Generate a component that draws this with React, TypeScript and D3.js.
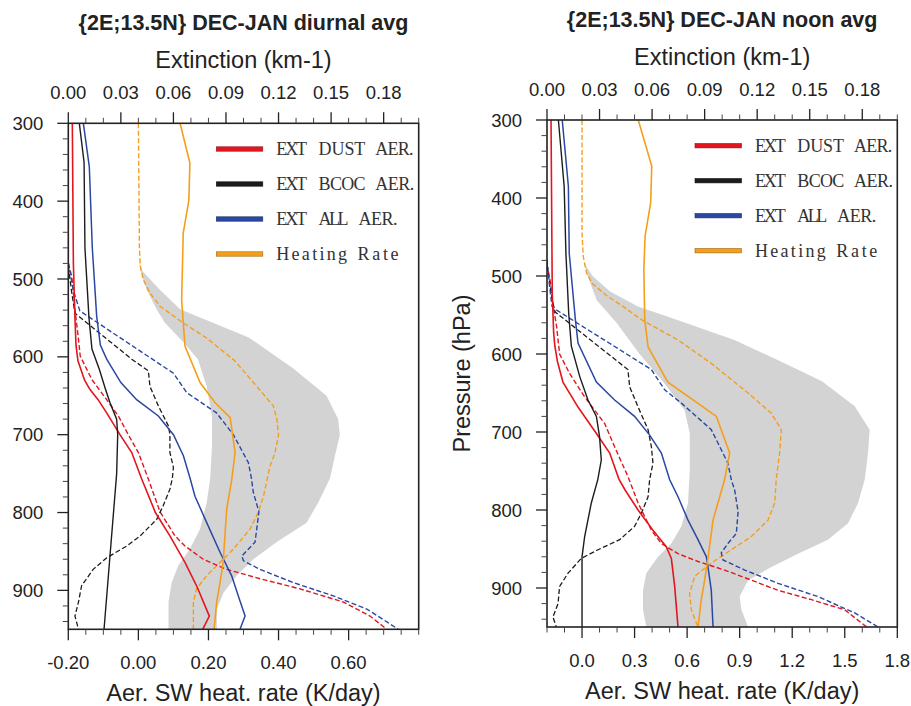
import React from "react";
import * as d3 from "d3";

type Pt = [number, number]; // [pressure hPa, value]

// ---------- axis ticks ----------
const PRESSURE_TICKS = [300, 400, 500, 600, 700, 800, 900];
const EXT_TICKS = [0, 0.03, 0.06, 0.09, 0.12, 0.15, 0.18];
const DIURNAL_HEAT_TICKS = [-0.2, 0, 0.2, 0.4, 0.6];
const NOON_HEAT_TICKS = [0, 0.3, 0.6, 0.9, 1.2, 1.5, 1.8];

const LEGEND_LABELS = ["EXT DUST AER.", "EXT BCOC AER.", "EXT ALL AER.", "Heating Rate"];
// word layout for the legend labels: [offset, width] per word
const LEGEND_WORD_LAYOUT: [number, number][][] = [
  [[0, 30.7], [42.3, 46.7], [99, 38.3]],
  [[0, 30.7], [42.3, 47], [99, 39]],
  [[0, 30.7], [42.3, 30], [82.3, 39]],
  [[0, 70.7], [81.3, 41]],
];

// ---------- diurnal (left) ----------
const diurnalDustExt: Pt[] = [[300,0.0023],[480,0.0029],[550,0.0038],[585,0.0044],[605,0.0055],[630,0.0093],[642,0.0124],[655,0.0170],[672,0.0219],[700,0.0295],[723,0.0362],[757,0.0419],[800,0.0497],[830,0.0580],[864,0.0666],[896,0.0736],[933,0.0805],[950,0.0767]];
const diurnalBcocExt: Pt[] = [[300,0.0063],[350,0.0090],[460,0.0095],[550,0.0118],[590,0.0135],[616,0.0177],[640,0.0210],[659,0.0238],[680,0.0276],[700,0.0282],[750,0.0276],[950,0.0204]];
const diurnalAllExt: Pt[] = [[300,0.0086],[356,0.0120],[460,0.0137],[548,0.0162],[585,0.0183],[603,0.0219],[633,0.0300],[655,0.0390],[676,0.0514],[700,0.0600],[727,0.0657],[756,0.0695],[779,0.0723],[813,0.0790],[851,0.0866],[881,0.0932],[907,0.0970],[933,0.1009],[950,0.0980]];
const diurnalDustHeat: Pt[] = [[480,-0.2],[497,-0.19],[539,-0.181],[573,-0.172],[599,-0.166],[629,-0.133],[655,-0.0905],[676,-0.0572],[700,-0.0287],[723,0.0],[757,0.0285],[799,0.0617],[830,0.1045],[843,0.133],[860,0.185],[873,0.252],[885,0.347],[898,0.461],[915,0.585],[933,0.661],[950,0.709]];
const diurnalBcocHeat: Pt[] = [[484,-0.2],[518,-0.19],[544,-0.181],[603,-0.019],[618,0.0285],[638,0.033],[663,0.057],[689,0.086],[700,0.09],[723,0.09],[742,0.1],[756,0.097],[770,0.09],[791,0.071],[809,0.052],[830,0.005],[843,-0.033],[858,-0.09],[873,-0.129],[894,-0.162],[915,-0.171],[933,-0.181],[950,-0.171]];
const diurnalAllHeat: Pt[] = [[479,-0.2],[514,-0.186],[541,-0.167],[621,0.1],[646,0.138],[672,0.223],[700,0.271],[736,0.314],[757,0.323],[774,0.328],[799,0.344],[838,0.333],[856,0.295],[862,0.3],[873,0.347],[890,0.442],[907,0.556],[924,0.652],[950,0.742]];
const diurnalHeatRate: Pt[] = [[300,0.119],[351,0.147],[399,0.144],[441,0.128],[527,0.1235],[586,0.133],[633,0.176],[659,0.219],[678,0.262],[723,0.276],[756,0.267],[796,0.252],[864,0.242],[890,0.233],[915,0.2235],[950,0.216]];
const diurnalHeatMean: Pt[] = [[300,0.0],[462,0.003],[484,0.006],[501,0.014],[518,0.033],[535,0.062],[554,0.12],[576,0.195],[605,0.275],[638,0.338],[663,0.385],[680,0.395],[700,0.4],[723,0.39],[740,0.376],[779,0.357],[799,0.343],[821,0.319],[847,0.271],[864,0.233],[881,0.195],[898,0.166],[915,0.157],[950,0.157]];
const diurnalBandLow: Pt[] = [[471,0.0],[488,0.005],[514,0.024],[539,0.052],[556,0.075],[582,0.13],[603,0.17],[638,0.195],[676,0.21],[715,0.21],[756,0.205],[787,0.195],[821,0.176],[847,0.147],[868,0.114],[890,0.095],[915,0.086],[950,0.086]];
const diurnalBandHigh: Pt[] = [[471,0.0],[488,0.008],[514,0.062],[539,0.119],[552,0.19],[575,0.315],[615,0.442],[650,0.537],[680,0.57],[700,0.575],[727,0.561],[756,0.547],[787,0.5135],[813,0.48],[838,0.395],[860,0.328],[881,0.281],[903,0.243],[924,0.224],[950,0.224]];

// ---------- noon (right) ----------
const noonDustExt: Pt[] = [[300,0.0023],[522,0.003],[573,0.0038],[590,0.0045],[610,0.006],[636,0.0091],[668,0.0177],[702,0.0282],[727,0.0358],[760,0.041],[774,0.0445],[800,0.052],[826,0.0605],[847,0.0681],[862,0.071],[898,0.0729],[950,0.0748]];
const noonBcocExt: Pt[] = [[300,0.0065],[385,0.0098],[471,0.0108],[548,0.0124],[590,0.0139],[629,0.0187],[659,0.0234],[680,0.0282],[706,0.030],[736,0.031],[761,0.029],[791,0.0253],[834,0.0215],[860,0.020],[950,0.020]];
const noonAllExt: Pt[] = [[300,0.0087],[385,0.0122],[471,0.0127],[556,0.0162],[586,0.0177],[636,0.0282],[659,0.0386],[680,0.0500],[704,0.0586],[727,0.0653],[761,0.0700],[783,0.0748],[813,0.0805],[838,0.0862],[860,0.0910],[873,0.0919],[903,0.0938],[950,0.0948]];
const noonDustHeat: Pt[] = [[485,-0.2],[505,-0.183],[539,-0.164],[565,-0.145],[600,-0.128],[625,-0.071],[655,0.015],[689,0.129],[719,0.186],[757,0.262],[791,0.32],[826,0.396],[843,0.453],[856,0.548],[866,0.662],[877,0.814],[890,0.967],[903,1.119],[915,1.31],[928,1.5],[950,1.625]];
const noonBcocHeat: Pt[] = [[487,-0.2],[531,-0.17],[546,-0.154],[620,0.262],[642,0.272],[668,0.32],[697,0.377],[719,0.396],[740,0.405],[761,0.386],[783,0.377],[804,0.339],[821,0.3],[838,0.215],[851,0.091],[862,-0.004],[881,-0.08],[898,-0.128],[920,-0.137],[937,-0.166],[950,-0.147]];
const noonAllHeat: Pt[] = [[479,-0.2],[514,-0.185],[539,-0.171],[544,-0.143],[620,0.396],[646,0.472],[663,0.567],[697,0.738],[740,0.833],[761,0.852],[774,0.871],[802,0.891],[830,0.881],[843,0.833],[855,0.795],[864,0.805],[877,0.929],[894,1.119],[911,1.347],[932,1.557],[950,1.69]];
const noonHeatRate: Pt[] = [[300,0.321],[359,0.398],[406,0.392],[449,0.36],[492,0.353],[556,0.358],[591,0.377],[636,0.49],[663,0.66],[680,0.767],[727,0.843],[761,0.814],[791,0.776],[813,0.748],[862,0.719],[890,0.7],[915,0.681],[950,0.662]];
const noonHeatMean: Pt[] = [[300,0.0],[445,0.0],[475,0.007],[490,0.02],[497,0.027],[510,0.06],[525,0.14],[540,0.24],[556,0.339],[582,0.548],[612,0.738],[650,0.948],[676,1.081],[697,1.138],[727,1.128],[760,1.109],[791,1.1],[813,1.062],[834,0.967],[851,0.852],[868,0.738],[885,0.643],[907,0.614],[928,0.624],[950,0.662]];
const noonBandLow: Pt[] = [[484,0.015],[497,0.027],[531,0.084],[560,0.197],[599,0.325],[638,0.472],[672,0.586],[702,0.615],[749,0.615],[791,0.605],[821,0.567],[843,0.51],[860,0.434],[881,0.367],[903,0.348],[928,0.348],[950,0.367]];
const noonBandHigh: Pt[] = [[484,0.015],[500,0.06],[520,0.16],[539,0.32],[556,0.54],[582,0.87],[608,1.12],[635,1.37],[667,1.557],[697,1.642],[727,1.633],[761,1.614],[791,1.576],[817,1.519],[838,1.404],[856,1.233],[873,1.081],[890,0.948],[911,0.9],[928,0.91],[950,0.948]];

const COLORS = { dust: "#e3161e", bcoc: "#1c1c1c", all: "#2a47a3", heat: "#f59e1b" };
const LEGEND_COLORS = [COLORS.dust, COLORS.bcoc, COLORS.all, COLORS.heat];
const FONT = "'Liberation Sans', Arial, Helvetica, sans-serif";
const SERIF = "'Liberation Serif', 'Times New Roman', serif";

interface PanelProps {
  id: string;
  x0: number; x1: number; y0: number; y1: number;
  title: string;
  heatDomain: [number, number];
  heatTicks: number[];
  heatMinorStep: number;
  heatFmt: string;
  showYLabel: boolean;
  dustExt: Pt[]; bcocExt: Pt[]; allExt: Pt[];
  dustHeat: Pt[]; bcocHeat: Pt[]; allHeat: Pt[];
  heatRate: Pt[]; heatMean: Pt[];
  bandLow: Pt[]; bandHigh: Pt[];
}

function minorValues(a: number, b: number, step: number, majors: number[]) {
  const n = Math.round((b - a) / step);
  const out: number[] = [];
  for (let i = 0; i <= n; i++) {
    const v = a + i * step;
    if (!majors.some((m) => Math.abs(m - v) < step * 0.01)) out.push(v);
  }
  return out;
}

const hyphen = (s: string) => s.replace("\u2212", "-");

function Panel(p: PanelProps) {
  const y = d3.scaleLinear().domain([300, 950]).range([p.y0, p.y1]);
  const xe = d3.scaleLinear().domain([0, 0.2]).range([p.x0, p.x1]);
  const xh = d3.scaleLinear().domain(p.heatDomain).range([p.x0, p.x1]);
  const lineE = d3.line<Pt>().x((d) => xe(d[1])).y((d) => y(d[0]));
  const lineH = d3.line<Pt>().x((d) => xh(d[1])).y((d) => y(d[0]));
  const band = lineH([...p.bandLow, ...p.bandHigh.slice().reverse()]) + "Z";
  const cx = (p.x0 + p.x1) / 2;
  const cy = (p.y0 + p.y1) / 2;
  const MAJ = 11, MIN = 5.5;
  const fmtH = d3.format(p.heatFmt);
  const pMinor = minorValues(300, 940, 20, PRESSURE_TICKS);
  const eMinor = minorValues(0, 0.2, 0.01, EXT_TICKS);
  const hMinor = minorValues(p.heatDomain[0], p.heatDomain[1], p.heatMinorStep, p.heatTicks);
  const clip = `clip-${p.id}`;
  const dash = "5,2.5";

  return (
    <g>
      <defs>
        <clipPath id={clip}>
          <rect x={p.x0} y={p.y0} width={p.x1 - p.x0} height={p.y1 - p.y0} />
        </clipPath>
      </defs>
      <g clipPath={`url(#${clip})`}>
        <path d={band} fill="#d3d3d3" stroke="none" />
        <path d={lineH(p.heatMean) || ""} fill="none" stroke={COLORS.heat} strokeWidth={1.4} strokeDasharray={dash} />
        <path d={lineH(p.dustHeat) || ""} fill="none" stroke={COLORS.dust} strokeWidth={1.4} strokeDasharray={dash} />
        <path d={lineH(p.bcocHeat) || ""} fill="none" stroke={COLORS.bcoc} strokeWidth={1.3} strokeDasharray={dash} />
        <path d={lineH(p.allHeat) || ""} fill="none" stroke={COLORS.all} strokeWidth={1.4} strokeDasharray={dash} />
        <path d={lineE(p.dustExt) || ""} fill="none" stroke={COLORS.dust} strokeWidth={1.6} />
        <path d={lineE(p.bcocExt) || ""} fill="none" stroke={COLORS.bcoc} strokeWidth={1.4} />
        <path d={lineE(p.allExt) || ""} fill="none" stroke={COLORS.all} strokeWidth={1.5} />
        <path d={lineH(p.heatRate) || ""} fill="none" stroke={COLORS.heat} strokeWidth={1.6} />
      </g>

      {/* frame */}
      <rect x={p.x0} y={p.y0} width={p.x1 - p.x0} height={p.y1 - p.y0} fill="none" stroke="#222" strokeWidth={1.6} />

      {/* left axis ticks */}
      {PRESSURE_TICKS.map((t) => (
        <g key={`py${t}`}>
          <line x1={p.x0 - MAJ} x2={p.x0} y1={y(t)} y2={y(t)} stroke="#222" strokeWidth={1.3} />
          <text x={p.x0 - 25} y={y(t)} dy="0.36em" textAnchor="end" fontSize={18.5} fontFamily={FONT} fill="#222">{t}</text>
        </g>
      ))}
      {pMinor.map((t) => (
        <line key={`pm${t}`} x1={p.x0 - MIN} x2={p.x0} y1={y(t)} y2={y(t)} stroke="#444" strokeWidth={1} />
      ))}

      {/* top axis */}
      {EXT_TICKS.map((t) => (
        <g key={`et${t}`}>
          <line x1={xe(t)} x2={xe(t)} y1={p.y0 - MAJ} y2={p.y0} stroke="#222" strokeWidth={1.3} />
          <text x={xe(t)} y={p.y0 - 24.5} textAnchor="middle" fontSize={18.5} fontFamily={FONT} fill="#222">{d3.format(".2f")(t)}</text>
        </g>
      ))}
      {eMinor.map((t) => (
        <line key={`em${t}`} x1={xe(t)} x2={xe(t)} y1={p.y0 - MIN} y2={p.y0} stroke="#444" strokeWidth={1} />
      ))}

      {/* bottom axis */}
      {p.heatTicks.map((t) => (
        <g key={`ht${t}`}>
          <line x1={xh(t)} x2={xh(t)} y1={p.y1} y2={p.y1 + MAJ} stroke="#222" strokeWidth={1.3} />
          <text x={xh(t)} y={p.y1 + 39.5} textAnchor="middle" fontSize={18.5} fontFamily={FONT} fill="#222">{hyphen(fmtH(t))}</text>
        </g>
      ))}
      {hMinor.map((t) => (
        <line key={`hm${t}`} x1={xh(t)} x2={xh(t)} y1={p.y1} y2={p.y1 + MIN} stroke="#444" strokeWidth={1} />
      ))}

      {/* titles */}
      <text x={cx} y={p.y0 - 93} textAnchor="middle" fontSize={21.5} fontWeight="bold" fontFamily={FONT} fill="#222">{p.title}</text>
      <text x={cx} y={p.y0 - 55.5} textAnchor="middle" fontSize={23.5} fontFamily={FONT} fill="#222">Extinction (km-1)</text>
      <text x={cx} y={p.y1 + 71.5} textAnchor="middle" fontSize={23.5} fontFamily={FONT} fill="#222">Aer. SW heat. rate (K/day)</text>
      {p.showYLabel && (
        <text transform={`translate(${p.x0 - 77},${cy}) rotate(-90)`} textAnchor="middle" fontSize={23.5} fontFamily={FONT} fill="#222">Pressure (hPa)</text>
      )}

      {/* legend */}
      {LEGEND_LABELS.map((lab, i) => {
        const ly = p.y0 + 25.7 + i * 35;
        const c = LEGEND_COLORS[i];
        const words = lab.split(" ");
        return (
          <g key={lab}>
            <rect x={p.x0 + 148} y={ly - 2.2} width={46.5} height={4.4} fill={c} stroke={d3.color(c)!.darker(1.2).toString()} strokeWidth={0.6} />
            {words.map((w, j) => (
              <text key={w + j} x={p.x0 + 208 + LEGEND_WORD_LAYOUT[i][j][0]} y={ly + 6.3} fontSize={18} fontFamily={SERIF} fill="#333"
                textLength={LEGEND_WORD_LAYOUT[i][j][1]} lengthAdjust="spacing">{w}</text>
            ))}
          </g>
        );
      })}
    </g>
  );
}

export default function App() {
  return (
    <svg width={911} height={706} viewBox="0 0 911 706" style={{ position: "absolute", left: 0, top: 0, background: "#fff" }}>
      <rect x={0} y={0} width={911} height={706} fill="#fff" />
      <Panel
        id="diurnal"
        x0={68.3} x1={418.7} y0={123.3} y1={629.3}
        title="{2E;13.5N} DEC-JAN diurnal avg"
        heatDomain={[-0.2, 0.8]}
        heatTicks={DIURNAL_HEAT_TICKS}
        heatMinorStep={0.05}
        heatFmt=".2f"
        showYLabel={false}
        dustExt={diurnalDustExt} bcocExt={diurnalBcocExt} allExt={diurnalAllExt}
        dustHeat={diurnalDustHeat} bcocHeat={diurnalBcocHeat} allHeat={diurnalAllHeat}
        heatRate={diurnalHeatRate} heatMean={diurnalHeatMean}
        bandLow={diurnalBandLow} bandHigh={diurnalBandHigh}
      />
      <Panel
        id="noon"
        x0={547} x1={897.3} y0={120} y1={627}
        title="{2E;13.5N} DEC-JAN noon avg"
        heatDomain={[-0.2, 1.8]}
        heatTicks={NOON_HEAT_TICKS}
        heatMinorStep={0.1}
        heatFmt=".1f"
        showYLabel={true}
        dustExt={noonDustExt} bcocExt={noonBcocExt} allExt={noonAllExt}
        dustHeat={noonDustHeat} bcocHeat={noonBcocHeat} allHeat={noonAllHeat}
        heatRate={noonHeatRate} heatMean={noonHeatMean}
        bandLow={noonBandLow} bandHigh={noonBandHigh}
      />
    </svg>
  );
}
